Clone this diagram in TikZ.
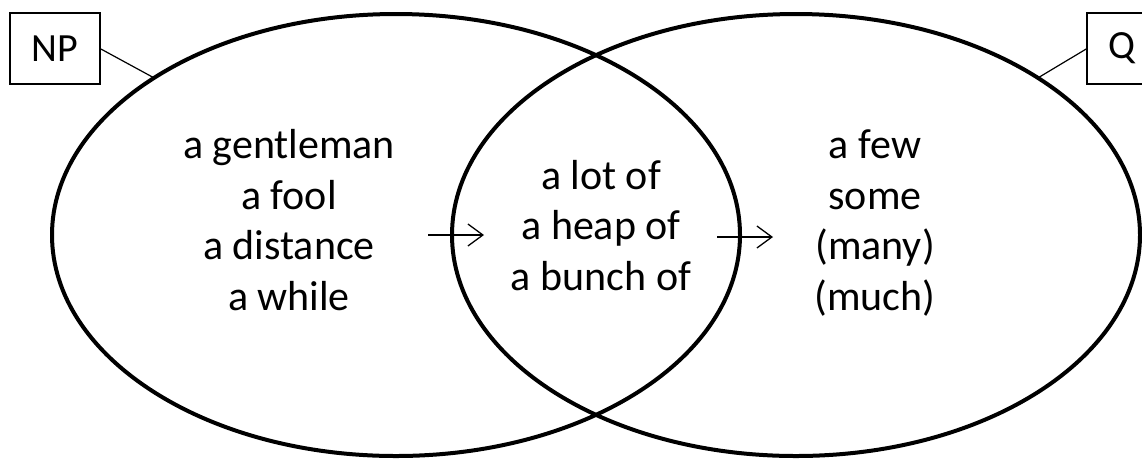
\documentclass[tikz,border=0pt]{standalone}
\usepackage{fontspec}
\setmainfont{Carlito}
\usepackage{tikz}
\usetikzlibrary{shapes.geometric, arrows.meta, positioning}

\begin{document}
\begin{tikzpicture}[
    x=1pt, y=-1pt,
    setshape/.style={
      ellipse, draw=black, line width=4pt,
      minimum width=688pt, minimum height=442pt,
      inner sep=0pt, outer sep=0pt
    },
    tagbox/.style={
      rectangle, draw=black, line width=1.2pt,
      minimum height=71pt, inner sep=0pt, outer sep=0pt,
      font=\fontsize{40}{48}\selectfont
    },
    words/.style={
      align=center, inner sep=0pt, anchor=base,
      font=\fontsize{42}{50.5}\selectfont
    },
    link/.style={line width=1.2pt},
    arr/.style={-{Straight Barb[length=15pt, width=22pt]}, line width=1.3pt}
  ]
    \useasboundingbox (0,0) rectangle (1142,459);

    % the two sets
    \node[setshape] (npset) at (396,235) {};
    \node[setshape] (qset) at (796,235) {};

    % labels
    \node[tagbox, minimum width=90pt] (npbox) at (55,48.5) {NP};
    \node[tagbox, minimum width=70pt, anchor=west] (qbox) at (1087,48.5) {Q};
    \draw[link] (npbox.east) -- (npset.147);
    \draw[link] (qbox.west) -- (qset.33);

    % contents
    \node[words] (npwords) at (289,310) {a gentleman\\a fool\\a distance\\a while};
    \node[words] (both) at (601,290) {a lot of\\a heap of\\a bunch of};
    \node[words] (qwords) at (875,310) {a few\\some\\(many)\\(much)};

    \coordinate (inA) at (428,235);
    \coordinate (inB) at (484,235);
    \coordinate (outA) at (717,237);
    \coordinate (outB) at (773,237);
    \draw[arr] (inA) -- (inB);
    \draw[arr] (outA) -- (outB);
\end{tikzpicture}
\end{document}
